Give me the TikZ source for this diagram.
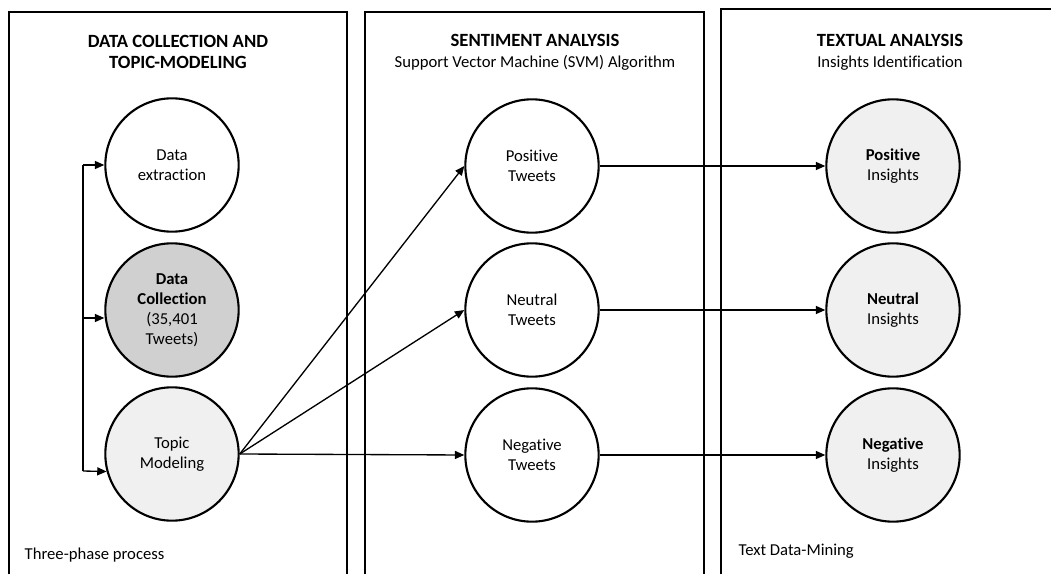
\documentclass[tikz,border=0pt]{standalone}
\usepackage{fontspec}
\setmainfont{Carlito}[Ligatures=NoCommon]
\usetikzlibrary{arrows.meta}

\tikzset{
  phase/.style={line width=2pt},
  stage/.style={circle, draw, line width=1.6pt, minimum size=100pt, inner sep=1pt, align=center, font=\fontsize{12.5}{15}\selectfont},
  flow/.style={line width=1pt, -{Triangle[length=7pt,width=6pt]}},
  heading/.style={align=center, font=\fontsize{12.5}{15.5}\selectfont},
  note/.style={anchor=west, font=\fontsize{12.5}{14}\selectfont}
}
\definecolor{midgray}{RGB}{208,208,208}
\definecolor{lightgray}{RGB}{240,240,240}

\begin{document}
\begin{tikzpicture}[x=0.75pt,y=0.75pt,yscale=-1,xscale=1]
\useasboundingbox (0,0) rectangle (1051,574);

%Shape: phase boxes
\draw[phase] (9,574) -- (9,12) -- (347,12) -- (347,574);
\draw[phase] (365,574) -- (365,12) -- (704,12) -- (704,574);
\draw[phase] (721,574) -- (721,9) -- (1051,9);

% Text Node
\node[heading] (head1) at (178,52) {{\fontsize{14}{15.5}\selectfont\textbf{DATA COLLECTION AND}}\\{\fontsize{14}{15.5}\selectfont\textbf{TOPIC-MODELING}}};
% Text Node
\node[heading] (head2) at (535,52) {{\fontsize{14}{15.5}\selectfont\textbf{SENTIMENT ANALYSIS}}\\Support Vector Machine (SVM) Algorithm};
% Text Node
\node[heading] (head3) at (890,52) {{\fontsize{14}{15.5}\selectfont\textbf{TEXTUAL ANALYSIS}}\\Insights Identification};

%Shape: Circle
\node[stage] (extract) at (172,165) {Data\\extraction};
\node[stage, fill=midgray] (collect) at (172,310) {\textbf{Data}\\\textbf{Collection}\\(35,401\\Tweets)};
\node[stage, fill=lightgray] (topic) at (172,454) {Topic\\Modeling};

\node[stage] (postw) at (532,166) {Positive\\Tweets};
\node[stage] (neutw) at (532,310) {Neutral\\Tweets};
\node[stage] (negtw) at (532,455) {Negative\\Tweets};

\node[stage, fill=lightgray] (posin) at (893,166) {\textbf{Positive}\\Insights};
\node[stage, fill=lightgray] (neuin) at (893,310) {\textbf{Neutral}\\Insights};
\node[stage, fill=lightgray] (negin) at (893,455) {\textbf{Negative}\\Insights};

%Straight Lines: feed bracket
\coordinate (brtop) at (83,165);
\coordinate (brmid) at (83,318);
\coordinate (brbot) at (83,471);
\draw[line width=1pt] (brtop) -- (brbot);
\draw[flow] (brtop) -- (extract.west);
\draw[flow] (brmid) -- (collect.west |- brmid);
\draw[flow] (brbot) -- (topic.195);

%Straight Lines: topics to sentiment
\draw[flow] (topic.east) -- (postw.west);
\draw[flow] (topic.east) -- (neutw.west);
\draw[flow] (topic.east) -- (negtw.west);

%Straight Lines: sentiment to insights
\draw[flow] (postw.east) -- (posin.west);
\draw[flow] (neutw.east) -- (neuin.west);
\draw[flow] (negtw.east) -- (negin.west);

% Text Node
\node[note] (phases) at (20,555) {Three-phase process};
% Text Node
\node[note] (mining) at (734,551) {Text Data-Mining};

\end{tikzpicture}
\end{document}
